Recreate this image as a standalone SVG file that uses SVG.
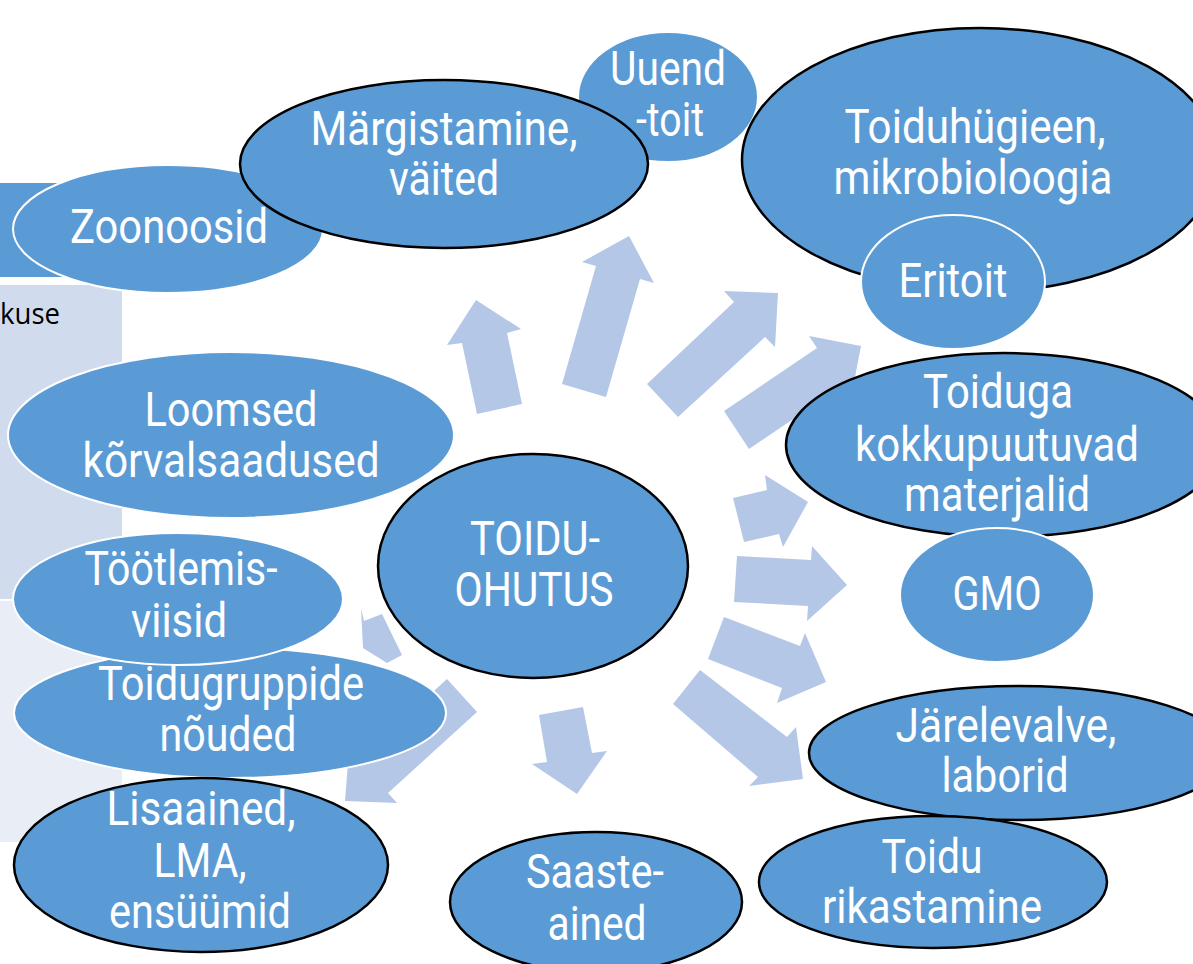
<svg xmlns="http://www.w3.org/2000/svg" width="1193" height="964" viewBox="0 0 1193 964">
<style>
.n{fill:#5B9BD5}
.b{stroke:#000;stroke-width:2.5}
.w{stroke:#fff;stroke-width:2}
.t{font-family:Roboto,"Liberation Sans",sans-serif;font-size:48px;fill:#fff;text-anchor:middle}
.a{fill:#B4C7E7}
</style>
<rect width="1193" height="964" fill="#fff"/>
<g id="background">
<rect x="0" y="183" width="122" height="94" fill="#5B9BD5"/>
<rect x="0" y="285" width="122" height="314" fill="#D0DCEE"/>
<rect x="0" y="601" width="122" height="241" fill="#E9EEF6"/>
<text x="0" y="324" font-family="'Open Sans','Liberation Sans',sans-serif" font-size="29" fill="#000" textLength="60" lengthAdjust="spacingAndGlyphs">kuse</text>
</g>
<g id="connectors">
<polygon class="a" points="476,300 521,329 507,333 522,404 477,414 462,343 447,345"/>
<polygon class="a" points="629,236 654,283 640,279 606,397 562,384 596,266 582,262"/>
<polygon class="a" points="778,293 775,347 765,337 678,417 647,384 734,302 724,291"/>
<polygon class="a" points="861,346 851,398 842,386 749,449 724,411 817,348 809,336"/>
<polygon class="a" points="808,502 783,547 779,534 744,542 733,498 767,490 765,475"/>
<polygon class="a" points="847,585 807,621 808,606 734,602 737,556 811,560 812,546"/>
<polygon class="a" points="826,682 777,703 782,688 708,659 724,617 800,646 805,633"/>
<polygon class="a" points="803,779 749,786 758,777 673,704 700,670 787,737 796,727"/>
<polygon class="a" points="577,794 532,764 547,762 539,715 583,707 592,753 607,751"/>
<polygon class="a" points="345,801 349,750 358,760 447,679 477,712 388,793 397,803"/>
<polygon class="a" points="361,608 364,621 382,614 402,655 387,663 363,648"/>
</g>
<g id="uuendtoit">
<ellipse class="n w" cx="668" cy="97" rx="90" ry="65"/>
<text class="t" x="668" y="85" textLength="116" lengthAdjust="spacingAndGlyphs">Uuend</text>
<text class="t" x="670" y="136" textLength="68" lengthAdjust="spacingAndGlyphs">-toit</text>
</g>
<g id="zoonoosid">
<ellipse class="n w" cx="168" cy="229" rx="155" ry="64"/>
<text class="t" x="169" y="243" textLength="198" lengthAdjust="spacingAndGlyphs">Zoonoosid</text>
</g>
<g id="margistamine">
<ellipse class="n b" cx="444" cy="164" rx="204" ry="84"/>
<text class="t" x="444" y="145" textLength="267" lengthAdjust="spacingAndGlyphs">Märgistamine,</text>
<text class="t" x="444" y="195" textLength="110" lengthAdjust="spacingAndGlyphs">väited</text>
</g>
<g id="toiduhygieen">
<ellipse class="n b" cx="980" cy="160" rx="238" ry="132"/>
<text class="t" x="975" y="143" textLength="261" lengthAdjust="spacingAndGlyphs">Toiduhügieen,</text>
<text class="t" x="973" y="194" textLength="279" lengthAdjust="spacingAndGlyphs">mikrobioloogia</text>
</g>
<g id="eritoit">
<ellipse class="n w" cx="953" cy="282" rx="92" ry="67"/>
<text class="t" x="953" y="297" textLength="109" lengthAdjust="spacingAndGlyphs">Eritoit</text>
</g>
<g id="toiduga">
<ellipse class="n b" cx="1004" cy="445" rx="218" ry="92"/>
<text class="t" x="998" y="408" textLength="150" lengthAdjust="spacingAndGlyphs">Toiduga</text>
<text class="t" x="997" y="461" textLength="284" lengthAdjust="spacingAndGlyphs">kokkupuutuvad</text>
<text class="t" x="997" y="511" textLength="186" lengthAdjust="spacingAndGlyphs">materjalid</text>
</g>
<g id="gmo">
<ellipse class="n w" cx="997" cy="595" rx="97" ry="67"/>
<text class="t" x="997" y="610" textLength="89" lengthAdjust="spacingAndGlyphs">GMO</text>
</g>
<g id="jarelevalve">
<ellipse class="n b" cx="1019" cy="753" rx="210" ry="67"/>
<text class="t" x="1006" y="742" textLength="221" lengthAdjust="spacingAndGlyphs">Järelevalve,</text>
<text class="t" x="1005" y="792" textLength="127" lengthAdjust="spacingAndGlyphs">laborid</text>
</g>
<g id="rikastamine">
<ellipse class="n b" cx="933" cy="882" rx="174" ry="66"/>
<text class="t" x="932" y="873" textLength="101" lengthAdjust="spacingAndGlyphs">Toidu</text>
<text class="t" x="932" y="923" textLength="220" lengthAdjust="spacingAndGlyphs">rikastamine</text>
</g>
<g id="saasteained">
<ellipse class="n b" cx="596" cy="902" rx="146" ry="70"/>
<text class="t" x="595" y="888" textLength="138" lengthAdjust="spacingAndGlyphs">Saaste-</text>
<text class="t" x="597" y="940" textLength="99" lengthAdjust="spacingAndGlyphs">ained</text>
</g>
<g id="loomsed">
<ellipse class="n w" cx="231" cy="435" rx="223" ry="83"/>
<text class="t" x="231" y="426" textLength="173" lengthAdjust="spacingAndGlyphs">Loomsed</text>
<text class="t" x="231" y="477" textLength="297" lengthAdjust="spacingAndGlyphs">kõrvalsaadused</text>
</g>
<g id="toidugruppide">
<ellipse class="n w" cx="230" cy="713" rx="216" ry="65"/>
<text class="t" x="231" y="700" textLength="266" lengthAdjust="spacingAndGlyphs">Toidugruppide</text>
<text class="t" x="228" y="751" textLength="137" lengthAdjust="spacingAndGlyphs">nõuded</text>
</g>
<g id="tootlemis">
<ellipse class="n w" cx="178" cy="599" rx="165" ry="66"/>
<text class="t" x="181" y="585" textLength="193" lengthAdjust="spacingAndGlyphs">Töötlemis-</text>
<text class="t" x="179" y="637" textLength="96" lengthAdjust="spacingAndGlyphs">viisid</text>
</g>
<g id="lisaained">
<ellipse class="n b" cx="201" cy="865" rx="187" ry="87"/>
<text class="t" x="201" y="825" textLength="189" lengthAdjust="spacingAndGlyphs">Lisaained,</text>
<text class="t" x="200" y="877" textLength="93" lengthAdjust="spacingAndGlyphs">LMA,</text>
<text class="t" x="200" y="928" textLength="182" lengthAdjust="spacingAndGlyphs">ensüümid</text>
</g>
<g id="toiduohutus">
<ellipse class="n b" cx="533" cy="566" rx="155" ry="112"/>
<text class="t" x="535" y="555" textLength="130" lengthAdjust="spacingAndGlyphs">TOIDU-</text>
<text class="t" x="534" y="606" textLength="159" lengthAdjust="spacingAndGlyphs">OHUTUS</text>
</g>
</svg>
